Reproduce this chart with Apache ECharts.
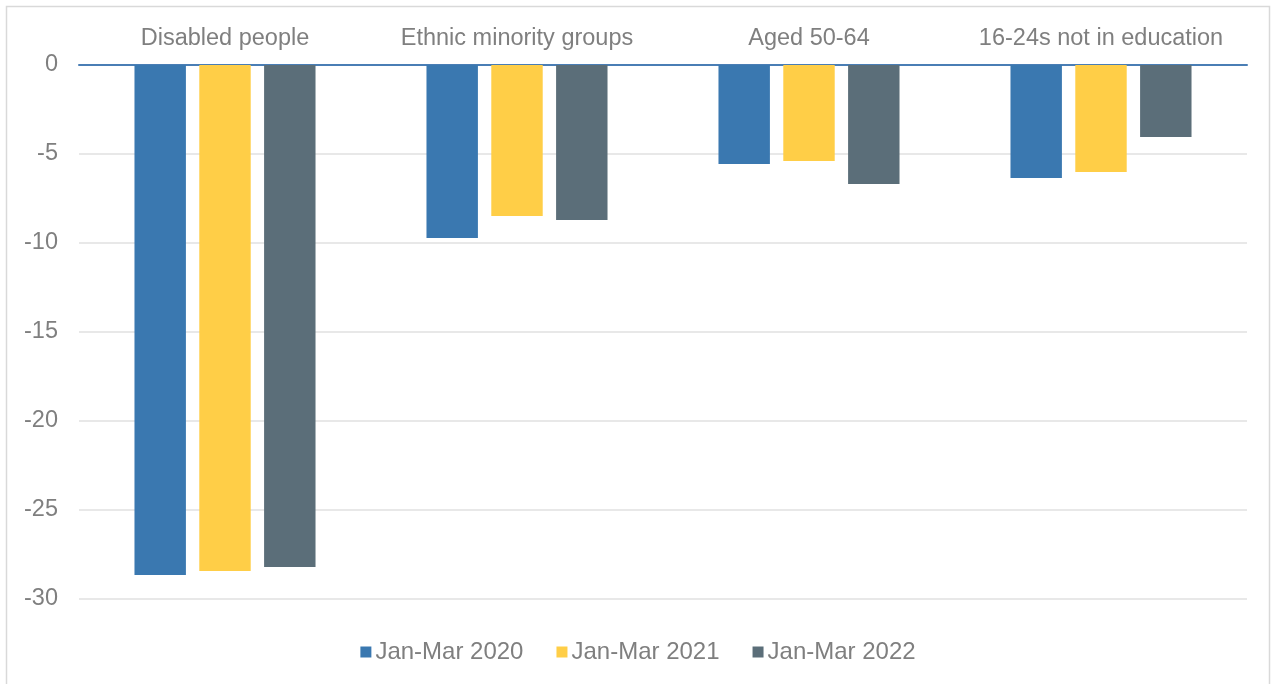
<!DOCTYPE html>
<html><head><meta charset="utf-8">
<script src="https://cdn.jsdelivr.net/npm/echarts@6/dist/echarts.min.js"></script>
<style>html,body{margin:0;padding:0;background:#fff}#c{width:1276px;height:684px}</style>
</head><body><div id="c"></div>
<script>
const categories = ["Disabled people", "Ethnic minority groups", "Aged 50-64", "16-24s not in education"];
const seriesNames = ["Jan-Mar 2020", "Jan-Mar 2021", "Jan-Mar 2022"];
const v2020 = [-28.65, -9.72, -5.56, -6.35];
const v2021 = [-28.43, -8.48, -5.39, -6.01];
const v2022 = [-28.2, -8.71, -6.69, -4.04];
const colors = ["#3A78B0", "#FFCE47", "#5B6E79"];
const chart = echarts.init(document.getElementById('c'));
const txt = {color: '#7f7f7f', fontFamily: 'Liberation Sans, Arial, sans-serif', fontSize: 23.5};
chart.setOption({
  animation: false,
  graphic: [{type: 'rect', shape: {x: 6.5, y: 6.5, width: 1263, height: 700}, style: {fill: 'none', stroke: '#d9d9d9', lineWidth: 1.5}, silent: true}],
  grid: {left: 79, right: 29, top: 65, bottom: 85},
  legend: {top: 635, left: 'center', itemWidth: 11, itemHeight: 11, itemGap: 33, icon: 'rect',
    textStyle: Object.assign({}, txt, {fontSize: 24, padding: [0, 0, 0, -1]}), data: seriesNames},
  xAxis: {type: 'category', data: categories, position: 'top',
    axisLine: {show: true, lineStyle: {color: '#4A7EB5', width: 2}},
    axisTick: {show: false}, axisLabel: Object.assign({}, txt, {margin: 14, interval: 0, hideOverlap: false})},
  yAxis: {type: 'value', min: -30, max: 0, interval: 5,
    axisLine: {show: false}, axisTick: {show: false},
    axisLabel: Object.assign({}, txt, {margin: 21}),
    splitLine: {lineStyle: {color: '#e0e0e0', width: 1.5}}},
  series: [v2020, v2021, v2022].map((d, i) => ({
    name: seriesNames[i], type: 'bar', data: d, barGap: '26%', barCategoryGap: '38%',
    itemStyle: {color: colors[i]}
  }))
});
</script></body></html>
